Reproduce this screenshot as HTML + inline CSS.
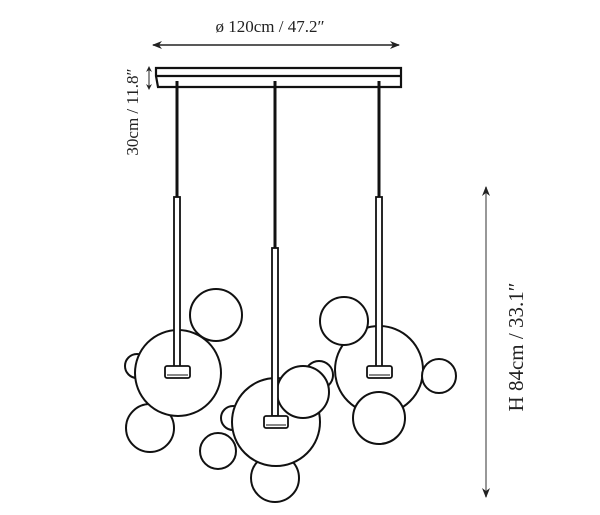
<!DOCTYPE html>
<html><head><style>
html,body{margin:0;padding:0;background:#fff;}
svg{display:block;}
text{font-family:"Liberation Serif",serif;fill:#222;}
</style></head><body>
<svg width="600" height="515" viewBox="0 0 600 515" xmlns="http://www.w3.org/2000/svg">
<defs>
<marker id="a" markerWidth="10" markerHeight="8" refX="9" refY="4" orient="auto-start-reverse" markerUnits="userSpaceOnUse">
<path d="M0,0 L10,4 L0,8 L3,4 z" fill="#222"/></marker>
<marker id="s" markerWidth="6" markerHeight="6" refX="5" refY="3" orient="auto-start-reverse" markerUnits="userSpaceOnUse">
<path d="M0,0 L6,3 L0,6 L2,3 z" fill="#222"/></marker>
</defs>
<text x="270" y="32" font-size="17" text-anchor="middle">ø 120cm / 47.2″</text>
<line x1="153" y1="45" x2="399" y2="45" stroke="#222" stroke-width="1.5" marker-start="url(#a)" marker-end="url(#a)"/>
<line x1="149" y1="67" x2="149" y2="89" stroke="#222" stroke-width="1" marker-start="url(#s)" marker-end="url(#s)"/>
<text transform="translate(138,112) rotate(-90)" font-size="17" text-anchor="middle">30cm / 11.8″</text>
<line x1="486" y1="187" x2="486" y2="497" stroke="#777" stroke-width="1.5" marker-start="url(#a)" marker-end="url(#a)"/>
<text transform="translate(523,347) rotate(-90)" font-size="21" text-anchor="middle">H 84cm / 33.1″</text>
<g stroke="#111" stroke-width="2.2" fill="none">
<path d="M156,68 H401 V87 H158 L156,76 Z"/>
<line x1="156" y1="76" x2="401" y2="76"/>
</g>
<g stroke="#111" stroke-width="3">
<line x1="177" y1="81" x2="177" y2="197"/>
<line x1="275" y1="81" x2="275" y2="248"/>
<line x1="379" y1="81" x2="379" y2="197"/>
</g>
<g stroke="#111" stroke-width="2" fill="#fff">
<circle cx="137" cy="366" r="12"/>
<circle cx="150" cy="428" r="24"/>
<circle cx="178" cy="373" r="43"/>
<circle cx="216" cy="315" r="26"/>
<circle cx="379" cy="370" r="44"/>
<circle cx="344" cy="321" r="24"/>
<circle cx="379" cy="418" r="26"/>
<circle cx="439" cy="376" r="17"/>
<circle cx="233" cy="418" r="12"/>
<circle cx="275" cy="478" r="24"/>
<circle cx="218" cy="451" r="18"/>
<circle cx="276" cy="422" r="44"/>
<circle cx="319" cy="375" r="14"/>
<circle cx="303" cy="392" r="26"/>
</g>
<g stroke="#111" stroke-width="1.8" fill="#fff">
<rect x="174" y="197" width="6" height="170"/>
<rect x="272" y="248" width="6" height="168"/>
<rect x="376" y="197" width="6" height="170"/>
<rect x="165" y="366" width="25" height="12" rx="2"/>
<rect x="264" y="416" width="24" height="12" rx="2"/>
<rect x="367" y="366" width="25" height="12" rx="2"/>
</g>
<g stroke="#111" stroke-width="1" fill="none">
<line x1="167" y1="375" x2="188" y2="375"/>
<line x1="266" y1="425" x2="286" y2="425"/>
<line x1="369" y1="375" x2="390" y2="375"/>
</g>
</svg>
</body></html>
